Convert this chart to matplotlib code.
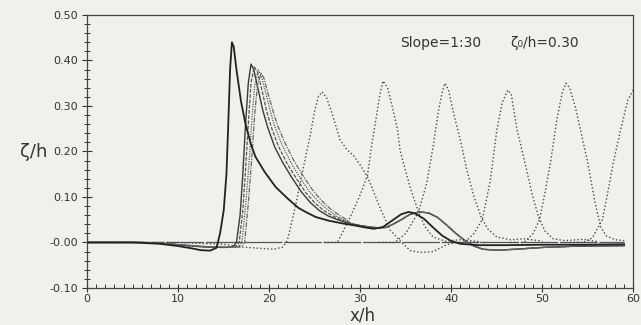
import matplotlib
matplotlib.use("Agg")
import matplotlib.pyplot as plt
from matplotlib.ticker import MultipleLocator

# ---------------- data ----------------
zero_x = [0, 59]
zero_y = [0, 0]

s1_x = [0, 5, 8, 10, 11.5, 12.5, 13.5, 14.2, 14.6, 15.0, 15.3, 15.5, 15.7, 15.9, 16.1, 16.4,
        16.9, 17.4, 18.0, 18.5, 19.5, 20.7, 22.0, 23.2, 24.2, 25.1, 26.5, 28.0, 29.5, 30.5,
        31.5, 32.5, 33.5, 34.5, 35.3, 36.0, 37.0, 38.0, 39.0, 40.0, 41.0, 43.0, 46, 50, 54, 59]
s1_y = [0, 0, -0.003, -0.008, -0.013, -0.017, -0.018, -0.012, 0.02, 0.07, 0.15, 0.26, 0.38,
        0.44, 0.43, 0.38, 0.31, 0.26, 0.215, 0.188, 0.155, 0.122, 0.097, 0.076, 0.065, 0.056,
        0.048, 0.042, 0.037, 0.033, 0.03, 0.034, 0.048, 0.062, 0.067, 0.064, 0.052, 0.033,
        0.015, 0.003, -0.003, -0.006, -0.006, -0.005, -0.005, -0.004]

b1_x = [0, 6, 9, 11, 13, 15, 16.0, 16.4, 16.8, 17.1, 17.4, 17.7, 18.0, 18.3, 18.8, 19.3, 19.8,
        20.6, 21.5, 22.5, 23.5, 24.5, 25.5, 26.5, 27.5, 28.3]
b1_y = [0, 0, -0.003, -0.007, -0.01, -0.011, -0.01, 0.0, 0.06, 0.15, 0.26, 0.35, 0.392, 0.38,
        0.335, 0.29, 0.255, 0.21, 0.175, 0.142, 0.112, 0.088, 0.07, 0.058, 0.05, 0.045]

b2_x = [0, 6, 9, 11, 13, 15, 16.3, 16.7, 17.1, 17.4, 17.7, 18.0, 18.35, 18.7, 19.2, 19.7, 20.2,
        21.0, 22.0, 23.0, 24.0, 25.0, 26.0, 27.0, 28.0]
b2_y = [0, 0, -0.003, -0.007, -0.01, -0.011, -0.01, 0.0, 0.07, 0.16, 0.26, 0.35, 0.386, 0.375,
        0.335, 0.29, 0.255, 0.212, 0.172, 0.14, 0.11, 0.087, 0.07, 0.058, 0.049]

b3_x = [0, 6, 9, 11, 13, 15, 16.6, 17.0, 17.4, 17.8, 18.1, 18.4, 18.8, 19.1, 19.6, 20.1, 20.6,
        21.4, 22.4, 23.4, 24.4, 25.4, 26.4, 27.4, 28.4]
b3_y = [0, 0, -0.003, -0.006, -0.009, -0.01, -0.01, 0.0, 0.08, 0.18, 0.27, 0.345, 0.379, 0.368,
        0.33, 0.29, 0.255, 0.215, 0.175, 0.142, 0.112, 0.09, 0.072, 0.058, 0.048]

b4_x = [0, 6, 9, 11, 13, 15, 16.9, 17.3, 17.7, 18.1, 18.4, 18.7, 19.1, 19.4, 19.9, 20.4, 20.9,
        21.7, 22.7, 23.7, 24.7, 25.7, 26.7, 27.7, 28.6]
b4_y = [0, 0, -0.003, -0.006, -0.009, -0.01, -0.01, 0.0, 0.085, 0.19, 0.28, 0.345, 0.372, 0.362,
        0.325, 0.29, 0.258, 0.22, 0.18, 0.147, 0.117, 0.093, 0.074, 0.06, 0.049]

bundle_tail_x = [29, 30, 31, 32, 32.8, 33.6, 34.5, 35.5, 36.5, 37.5, 38.5, 39.5, 40.5, 41.5,
                 42.5, 43.5, 45, 47, 50, 54, 59]
bundle_tail_y = [0.041, 0.037, 0.034, 0.032, 0.033, 0.04, 0.05, 0.062, 0.067, 0.065, 0.055,
                 0.038, 0.02, 0.004, -0.008, -0.015, -0.017, -0.015, -0.011, -0.008, -0.007]

d1_x = [0, 10, 15, 17, 19, 20.5, 21.5, 22.0, 22.3, 23.0, 23.7, 24.5, 25.0, 25.4, 25.8, 26.3,
        26.8, 27.8, 28.5, 29.3, 30.0, 30.8, 31.6, 32.3, 33.3, 34.4, 35.5, 36.6, 38.0, 39.5,
        40.5, 44]
d1_y = [0, 0, -0.004, -0.01, -0.013, -0.015, -0.01, 0.005, 0.03, 0.09, 0.16, 0.235, 0.29,
        0.32, 0.331, 0.318, 0.29, 0.225, 0.205, 0.19, 0.17, 0.144, 0.105, 0.07, 0.027, 0.003,
        -0.018, -0.022, -0.02, -0.005, 0.0, 0.0]

d2_x = [26, 27.5, 28.0, 29.0, 30.0, 30.8, 31.3, 31.8, 32.2, 32.5, 33.0, 33.5, 34.1, 34.4,
        35.5, 36.4, 37.1, 38.0, 39.3, 41.0, 43.0]
d2_y = [0, 0.0, 0.02, 0.06, 0.105, 0.148, 0.22, 0.28, 0.33, 0.355, 0.34, 0.3, 0.247, 0.2,
        0.12, 0.067, 0.035, 0.012, 0.003, 0.006, 0.002]

d3_x = [32, 33.8, 35.0, 36.4, 37.3, 38.0, 38.6, 39.0, 39.3, 39.7, 40.3, 41.0, 41.7, 42.5,
        43.3, 44.0, 45.0, 46.5, 48.0, 50.0]
d3_y = [0, 0.0, 0.02, 0.067, 0.13, 0.21, 0.29, 0.33, 0.35, 0.335, 0.28, 0.225, 0.16, 0.1,
        0.055, 0.03, 0.012, 0.006, 0.008, 0.003]

d4_x = [40, 41.5, 42.5, 43.4, 43.8, 44.3, 45.0, 45.6, 46.2, 46.6, 47.2, 48.1, 48.9, 49.6,
        50.3, 51.2, 52.5, 54.5, 56]
d4_y = [0, 0.0, 0.02, 0.05, 0.087, 0.137, 0.247, 0.307, 0.335, 0.325, 0.25, 0.175, 0.105,
        0.055, 0.025, 0.008, 0.004, 0.007, 0.002]

d5_x = [46.5, 48.0, 49.0, 49.7, 50.3, 50.9, 51.6, 52.2, 52.6, 53.0, 53.6, 54.2, 55.0, 55.8,
        56.4, 57.0, 58.0, 59.0]
d5_y = [0, 0.0, 0.02, 0.05, 0.11, 0.175, 0.27, 0.33, 0.35, 0.34, 0.3, 0.247, 0.175, 0.087,
        0.035, 0.015, 0.006, 0.004]

d6_x = [53.0, 54.5, 55.5, 56.6, 57.1, 57.8, 58.6, 59.4, 60.0]
d6_y = [0, 0.0, 0.01, 0.05, 0.1, 0.175, 0.247, 0.313, 0.335]

xticks = [0, 10, 20, 30, 40, 50, 60]
xtick_labels = ["0", "10", "20", "30", "40", "50", "60"]
yticks = [0.50, 0.40, 0.30, 0.20, 0.10, 0.00, -0.10]
ytick_labels = ["0.50", "0.40", "0.30", "0.20", "0.10", "-0.00", "-0.10"]

# ---------------- figure ----------------
paper = "#f2f0eb"
ink = "#333333"
fig = plt.figure(figsize=(6.41, 3.25), dpi=100, facecolor=paper)
ax = fig.add_axes([0.136, 0.114, 0.852, 0.840])
ax.set_facecolor(paper)

ax.plot(zero_x, zero_y, color="#555555", lw=0.9, dashes=(30, 1.5))

dot_kw = dict(color="#4a4a4a", lw=1.0, linestyle=(0, (1, 1.6)))
for dx, dy in [(d1_x, d1_y), (d2_x, d2_y), (d3_x, d3_y), (d4_x, d4_y), (d5_x, d5_y), (d6_x, d6_y)]:
    ax.plot(dx, dy, **dot_kw)

bundle_styles = [
    dict(color="#3a3a3a", lw=1.0, linestyle="-"),
    dict(color="#555555", lw=0.9, linestyle=(0, (3, 1.2))),
    dict(color="#555555", lw=0.9, linestyle=(0, (1, 1))),
    dict(color="#666666", lw=0.9, linestyle=(0, (4, 1, 1, 1))),
]
for (bx, by), st in zip([(b1_x, b1_y), (b2_x, b2_y), (b3_x, b3_y), (b4_x, b4_y)], bundle_styles):
    ax.plot(bx + bundle_tail_x, by + bundle_tail_y, **st)

ax.plot(s1_x, s1_y, color="#222222", lw=1.3)

ax.set_xlim(0, 60)
ax.set_ylim(-0.10, 0.50)
ax.set_xticks(xticks)
ax.set_xticklabels(xtick_labels)
ax.set_yticks(yticks)
ax.set_yticklabels(ytick_labels)
ax.xaxis.set_minor_locator(MultipleLocator(1))
ax.yaxis.set_minor_locator(MultipleLocator(0.02))
ax.tick_params(axis="x", which="major", direction="inout", length=6, width=0.8,
               labelsize=8, colors=ink, pad=1.5)
ax.tick_params(axis="x", which="minor", direction="in", length=3, width=0.7, colors=ink)
ax.tick_params(axis="y", which="major", direction="inout", length=7, width=0.8,
               labelsize=8, colors=ink, pad=3)
ax.tick_params(axis="y", which="minor", direction="inout", length=4, width=0.7, colors=ink)
for sp in ax.spines.values():
    sp.set_color("#444444")
    sp.set_linewidth(0.9)

ax.text(0.573, 0.897, "Slope=1:30", transform=ax.transAxes, fontsize=10, color=ink,
        va="center", ha="left")
ax.text(0.775, 0.897, "ζ\u2080/h=0.30", transform=ax.transAxes, fontsize=10, color=ink,
        va="center", ha="left")

fig.text(0.052, 0.532, "ζ/h", fontsize=13, color=ink, ha="center", va="center")
fig.text(0.566, 0.03, "x/h", fontsize=12, color=ink, ha="center", va="center")

fig.savefig("out.png", dpi=100, facecolor=paper)
